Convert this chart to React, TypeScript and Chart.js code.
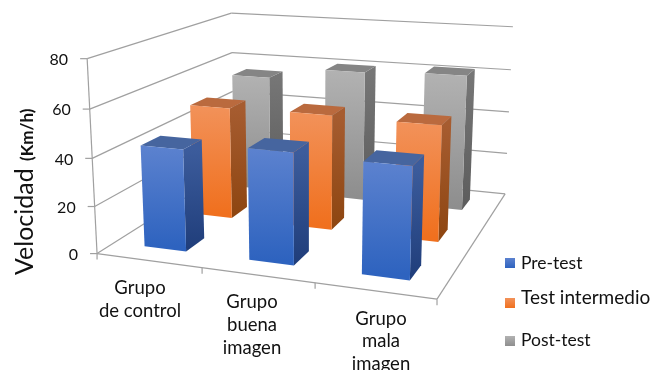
import React, { useEffect, useRef } from "react";
import { Chart, registerables } from "chart.js";

Chart.register(...registerables);

const categories = [["Grupo", "de control"], ["Grupo", "buena", "imagen"], ["Grupo", "mala", "imagen"]];
const preTest = [43, 46, 45];
const testIntermedio = [50, 50.5, 50];
const postTest = [55, 60.5, 62];
const yTicks = [0, 20, 40, 60, 80];
const seriesNames = ["Pre-test", "Test intermedio", "Post-test"];
const axisTitle = "Velocidad";
const axisUnit = "(Km/h)";

const FONT = "Lato, Carlito, sans-serif";
const TEXT = "#111111";
const GRID = "#a0a0a0";

// Calibration of the camera: box coordinates (u, v, w in 0..1) and where they land on the canvas.
const cameraRefs: number[][] = [
  [0, 0, 0, 97, 253], [1 / 3, 0, 0, 202, 268], [2 / 3, 0, 0, 315, 284], [1, 0, 0, 437, 299],
  [1, 1, 0, 505, 193], [0, 1, 0, 234, 168], [0, 0, 1, 87, 59], [0, 1, 1, 231, 13], [1, 1, 1, 513, 27],
  [0, 0, 0.25, 95, 206], [0, 0, 0.5, 92, 158], [0, 0, 0.75, 90, 109],
  [1, 1, 0.25, 507, 153], [1, 1, 0.5, 509, 112], [1, 1, 0.75, 511, 70], [0, 1, 0.5, 233, 91],
];

function solve(A: number[][], b: number[]) {
  const n = b.length;
  const M = A.map((r, i) => [...r, b[i]]);
  for (let c = 0; c < n; c++) {
    let p = c;
    for (let r = c + 1; r < n; r++) if (Math.abs(M[r][c]) > Math.abs(M[p][c])) p = r;
    [M[c], M[p]] = [M[p], M[c]];
    for (let r = 0; r < n; r++) {
      if (r === c) continue;
      const f = M[r][c] / M[c][c];
      for (let k = c; k <= n; k++) M[r][k] -= f * M[c][k];
    }
  }
  return M.map((r, i) => r[n] / r[i]);
}

function fitCamera() {
  const rows: number[][] = [];
  const rhs: number[] = [];
  for (const [u, v, w, px, py] of cameraRefs) {
    const x = px / 500;
    const y = py / 500;
    rows.push([u, v, w, 1, 0, 0, 0, 0, -x * u, -x * v, -x * w]);
    rhs.push(x);
    rows.push([0, 0, 0, 0, u, v, w, 1, -y * u, -y * v, -y * w]);
    rhs.push(y);
  }
  const N = 11;
  const AtA = Array.from({ length: N }, () => new Array(N).fill(0));
  const Atb = new Array(N).fill(0);
  rows.forEach((r, i) => {
    for (let a = 0; a < N; a++) {
      Atb[a] += r[a] * rhs[i];
      for (let b = 0; b < N; b++) AtA[a][b] += r[a] * r[b];
    }
  });
  return solve(AtA, Atb);
}

const cam = fitCamera();
function project(u: number, v: number, w: number): [number, number] {
  const d = cam[8] * u + cam[9] * v + cam[10] * w + 1;
  return [
    (500 * (cam[0] * u + cam[1] * v + cam[2] * w + cam[3])) / d,
    (500 * (cam[4] * u + cam[5] * v + cam[6] * w + cam[7])) / d,
  ];
}

const faces = [
  { front: ["#5c82cf", "#2e63bf"], side: ["#3c5c9c", "#1f3d7a"], top: "#46659f" },
  { front: ["#f2925a", "#f0701e"], side: ["#a65c30", "#8d4510"], top: "#ba6a3e" },
  { front: ["#b2b2b2", "#8e8e8e"], side: ["#767676", "#5c5c5c"], top: "#858585" },
];

const BAR_U = 0.135; // bar width along the category axis (fraction of the whole floor)
const BAR_V = 0.125; // bar depth (fraction of the whole floor)

function polygon(ctx: CanvasRenderingContext2D, pts: [number, number][], fill: string | CanvasGradient) {
  ctx.beginPath();
  pts.forEach((p, i) => (i ? ctx.lineTo(p[0], p[1]) : ctx.moveTo(p[0], p[1])));
  ctx.closePath();
  ctx.fillStyle = fill;
  ctx.fill();
}

function segment(ctx: CanvasRenderingContext2D, a: [number, number], b: [number, number]) {
  ctx.beginPath();
  ctx.moveTo(a[0], a[1]);
  ctx.lineTo(b[0], b[1]);
  ctx.stroke();
}

const perspectiveBars = {
  id: "perspectiveBars",
  afterDatasetsDraw(chart: any) {
    const { ctx } = chart;
    const xs = chart.scales.x;
    const ys = chart.scales.y;
    const wOf = (value: number) => (ys.bottom - ys.getPixelForValue(value)) / ys.height;
    const uOf = (i: number) => (xs.getPixelForValue(i) - xs.left) / xs.width;
    const seriesCount = chart.data.datasets.length;

    ctx.save();
    ctx.strokeStyle = GRID;
    ctx.lineWidth = 1.2;

    // value gridlines on the side and back walls, with ticks and their labels
    ctx.font = `16px ${FONT}`;
    ctx.fillStyle = TEXT;
    ctx.textAlign = "right";
    ctx.textBaseline = "middle";
    yTicks.forEach((t) => {
      const w = wOf(t);
      const a = project(0, 0, w);
      const b = project(0, 1, w);
      const c = project(1, 1, w);
      segment(ctx, [a[0] - 7, a[1]], a);
      segment(ctx, a, b);
      segment(ctx, b, c);
      ctx.fillText(String(t), a[0] - 19, a[1] + 1);
    });

    // floor outline, vertical axis and category ticks
    segment(ctx, project(0, 0, 0), project(0, 0, 1));
    segment(ctx, project(0, 0, 0), project(1, 0, 0));
    segment(ctx, project(1, 0, 0), project(1, 1, 0));
    for (let i = 0; i <= categories.length; i++) {
      const p = project(i / categories.length, 0, 0);
      segment(ctx, p, [p[0], p[1] + 6]);
    }

    // bars, back row first
    for (let s = seriesCount - 1; s >= 0; s--) {
      const values = chart.data.datasets[s].data as number[];
      const vc = (s + 0.5) / seriesCount;
      const v0 = vc - BAR_V / 2;
      const v1 = vc + BAR_V / 2;
      const col = faces[s];
      values.forEach((value, i) => {
        const uc = uOf(i);
        const u0 = uc - BAR_U / 2;
        const u1 = uc + BAR_U / 2;
        const w = wOf(value);
        const fbl = project(u0, v0, 0);
        const fbr = project(u1, v0, 0);
        const ftl = project(u0, v0, w);
        const ftr = project(u1, v0, w);
        const bbr = project(u1, v1, 0);
        const btr = project(u1, v1, w);
        const btl = project(u0, v1, w);
        const gf = ctx.createLinearGradient(0, ftl[1], 0, fbl[1]);
        gf.addColorStop(0, col.front[0]);
        gf.addColorStop(1, col.front[1]);
        const gs = ctx.createLinearGradient(0, ftr[1], 0, fbr[1]);
        gs.addColorStop(0, col.side[0]);
        gs.addColorStop(1, col.side[1]);
        polygon(ctx, [ftr, btr, bbr, fbr], gs);
        polygon(ctx, [ftl, btl, btr, ftr], col.top);
        polygon(ctx, [ftl, ftr, fbr, fbl], gf);
      });
    }

    // category labels
    ctx.font = `18.5px ${FONT}`;
    ctx.fillStyle = TEXT;
    ctx.textAlign = "center";
    const anchors = [[140, 288], [252, 302], [381, 319]];
    const lineGaps = [23, 23, 22.5];
    categories.forEach((lines, i) => {
      lines.forEach((line, j) => ctx.fillText(line, anchors[i][0], anchors[i][1] + j * lineGaps[i]));
    });

    // legend
    const swatches = [258, 298, 336];
    const labelsY = [263, 298, 340];
    const labelSizes = [17.5, 19, 17.5];
    ctx.textAlign = "left";
    seriesNames.forEach((name, s) => {
      const g = ctx.createLinearGradient(0, swatches[s], 0, swatches[s] + 10);
      g.addColorStop(0, faces[s].front[0]);
      g.addColorStop(1, faces[s].front[1]);
      ctx.fillStyle = g;
      ctx.fillRect(505, swatches[s], 10, 10);
      ctx.fillStyle = TEXT;
      ctx.font = `${labelSizes[s]}px ${FONT}`;
      ctx.fillText(name, 521, labelsY[s]);
    });

    // value axis title, written bottom to top
    ctx.translate(33, 275);
    ctx.rotate(-Math.PI / 2);
    ctx.textBaseline = "alphabetic";
    ctx.font = `25px ${FONT}`;
    ctx.fillText(axisTitle, 0, 0);
    ctx.font = `bold 17px ${FONT}`;
    ctx.fillText(axisUnit, 114, 0);
    ctx.restore();
  },
};

export default function App() {
  const ref = useRef<HTMLCanvasElement>(null);
  useEffect(() => {
    if (!ref.current) return;
    const source = [preTest, testIntermedio, postTest];
    const chart = new Chart(ref.current, {
      type: "bar",
      data: {
        labels: categories.map((c) => c.join(" ")),
        datasets: seriesNames.map((label, s) => ({
          label,
          data: source[s],
          backgroundColor: "rgba(0,0,0,0)",
        })),
      },
      options: {
        animation: false,
        responsive: false,
        events: [],
        layout: { padding: 0 },
        plugins: { legend: { display: false }, title: { display: false }, tooltip: { enabled: false } },
        scales: {
          x: { display: false },
          y: { display: false, min: 0, max: 80 },
        },
      },
      plugins: [perspectiveBars],
    });
    return () => chart.destroy();
  }, []);
  return (
    <div style={{ position: "fixed", left: 0, top: 0, width: 652, height: 370, background: "#fff" }}>
      <canvas ref={ref} width={652} height={370} style={{ display: "block" }} />
    </div>
  );
}
